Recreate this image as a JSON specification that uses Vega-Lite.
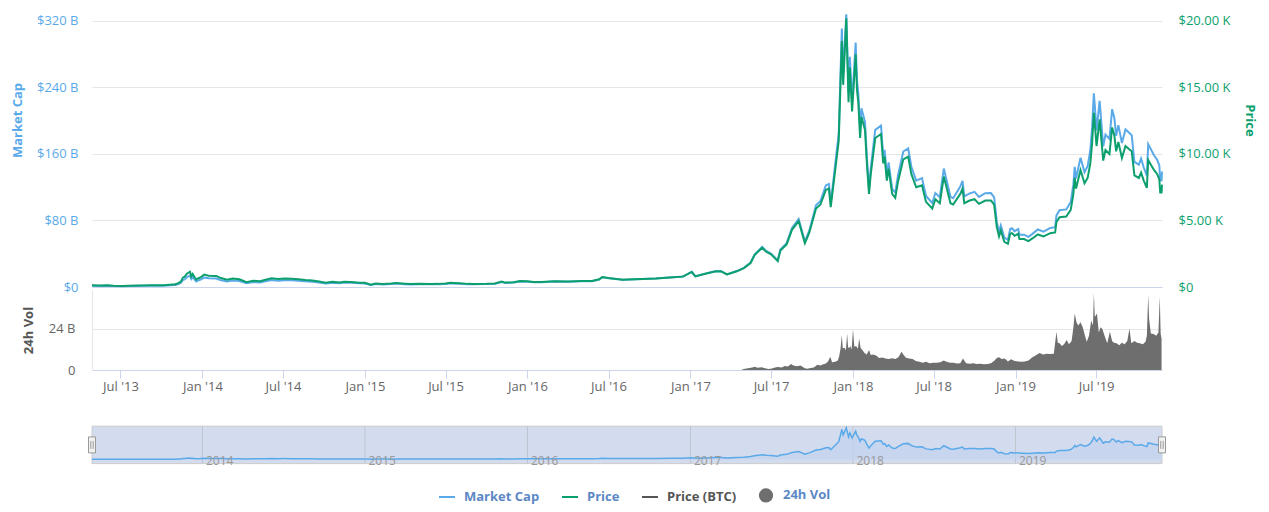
{
  "$schema": "https://vega.github.io/schema/vega-lite/v6.json",
  "padding": {"left": 11, "top": 10, "right": 10, "bottom": 5},
  "background": "white",
  "bounds": "flush",
  "spacing": 3,
  "config": {
    "font": "Open Sans",
    "view": {"stroke": null},
    "axis": {"labelFont": "Open Sans", "titleFont": "Open Sans"},
    "legend": {"labelFont": "Open Sans"}
  },
  "datasets": {
    "main": [
      {"d":"2013-04-28","mc":1.5,"p":135},{"d":"2013-05-15","mc":1.27,"p":114},{"d":"2013-06-01","mc":1.44,"p":129},{"d":"2013-06-15","mc":1.12,"p":100},
      {"d":"2013-07-05","mc":0.91,"p":80},{"d":"2013-07-20","mc":1.06,"p":93},{"d":"2013-08-05","mc":1.23,"p":107},{"d":"2013-08-20","mc":1.41,"p":122},
      {"d":"2013-09-05","mc":1.45,"p":125},{"d":"2013-09-20","mc":1.46,"p":125},{"d":"2013-10-05","mc":1.6,"p":136},{"d":"2013-10-20","mc":2.07,"p":175},
      {"d":"2013-11-01","mc":2.44,"p":205},{"d":"2013-11-08","mc":3.52,"p":295},{"d":"2013-11-14","mc":5.02,"p":420},{"d":"2013-11-18","mc":8.38,"p":700},
      {"d":"2013-11-22","mc":9.23,"p":770},{"d":"2013-11-27","mc":12.0,"p":1000},{"d":"2013-12-04","mc":13.8,"p":1150},{"d":"2013-12-07","mc":9.6,"p":800},
      {"d":"2013-12-10","mc":11.8,"p":980},{"d":"2013-12-18","mc":6.63,"p":550},{"d":"2013-12-22","mc":7.72,"p":640},{"d":"2013-12-28","mc":8.88,"p":730},
      {"d":"2014-01-05","mc":11.35,"p":930},{"d":"2014-01-15","mc":10.4,"p":850},{"d":"2014-02-01","mc":10.2,"p":830},{"d":"2014-02-10","mc":8.46,"p":690},
      {"d":"2014-02-25","mc":6.64,"p":540},{"d":"2014-03-10","mc":7.78,"p":630},{"d":"2014-03-25","mc":7.2,"p":580},{"d":"2014-04-10","mc":4.5,"p":360},
      {"d":"2014-04-25","mc":5.9,"p":470},{"d":"2014-05-10","mc":5.55,"p":440},{"d":"2014-05-25","mc":7.22,"p":570},{"d":"2014-06-05","mc":8.27,"p":650},
      {"d":"2014-06-20","mc":7.6,"p":595},{"d":"2014-07-05","mc":8.12,"p":630},{"d":"2014-07-20","mc":8.03,"p":620},{"d":"2014-08-05","mc":7.61,"p":585},
      {"d":"2014-08-20","mc":6.8,"p":520},{"d":"2014-09-05","mc":6.45,"p":490},{"d":"2014-09-20","mc":5.42,"p":410},{"d":"2014-10-05","mc":4.26,"p":320},
      {"d":"2014-10-20","mc":5.15,"p":385},{"d":"2014-11-05","mc":4.58,"p":340},{"d":"2014-11-15","mc":5.41,"p":400},{"d":"2014-12-01","mc":5.17,"p":380},
      {"d":"2014-12-20","mc":4.39,"p":320},{"d":"2015-01-01","mc":4.32,"p":315},{"d":"2015-01-14","mc":2.47,"p":180},{"d":"2015-01-25","mc":3.51,"p":255},
      {"d":"2015-02-10","mc":3.04,"p":220},{"d":"2015-03-01","mc":3.61,"p":260},{"d":"2015-03-12","mc":4.11,"p":295},{"d":"2015-04-01","mc":3.43,"p":245},
      {"d":"2015-04-15","mc":3.09,"p":220},{"d":"2015-05-01","mc":3.32,"p":235},{"d":"2015-06-01","mc":3.2,"p":225},{"d":"2015-06-15","mc":3.36,"p":235},
      {"d":"2015-07-01","mc":3.74,"p":260},{"d":"2015-07-12","mc":4.47,"p":310},{"d":"2015-08-01","mc":4.05,"p":280},{"d":"2015-08-20","mc":3.41,"p":235},
      {"d":"2015-09-01","mc":3.35,"p":230},{"d":"2015-10-01","mc":3.49,"p":238},{"d":"2015-10-20","mc":3.97,"p":270},{"d":"2015-11-04","mc":6.05,"p":410},
      {"d":"2015-11-12","mc":4.88,"p":330},{"d":"2015-12-01","mc":5.35,"p":360},{"d":"2015-12-15","mc":6.71,"p":450},{"d":"2016-01-01","mc":6.45,"p":430},
      {"d":"2016-01-15","mc":5.71,"p":380},{"d":"2016-02-01","mc":5.65,"p":375},{"d":"2016-03-01","mc":6.58,"p":435},{"d":"2016-04-01","mc":6.3,"p":415},
      {"d":"2016-05-01","mc":6.87,"p":450},{"d":"2016-05-25","mc":6.9,"p":450},{"d":"2016-06-10","mc":8.94,"p":580},{"d":"2016-06-17","mc":11.6,"p":750},
      {"d":"2016-07-01","mc":10.6,"p":675},{"d":"2016-08-02","mc":8.7,"p":550},{"d":"2016-08-15","mc":9.03,"p":570},{"d":"2016-09-15","mc":9.7,"p":610},
      {"d":"2016-10-15","mc":10.2,"p":640},{"d":"2016-11-15","mc":11.35,"p":710},{"d":"2016-12-15","mc":12.5,"p":780},{"d":"2017-01-04","mc":18.2,"p":1130},
      {"d":"2017-01-12","mc":12.9,"p":800},{"d":"2017-02-01","mc":15.8,"p":980},{"d":"2017-02-25","mc":18.9,"p":1170},{"d":"2017-03-10","mc":19.2,"p":1190},
      {"d":"2017-03-24","mc":15.2,"p":940},{"d":"2017-04-15","mc":19.2,"p":1180},{"d":"2017-05-01","mc":23.1,"p":1420},{"d":"2017-05-16","mc":29.3,"p":1800},
      {"d":"2017-05-25","mc":39.1,"p":2400},{"d":"2017-06-11","mc":48.3,"p":2950},{"d":"2017-06-20","mc":43.4,"p":2650},{"d":"2017-07-01","mc":40.2,"p":2450},
      {"d":"2017-07-16","mc":32.0,"p":1950},{"d":"2017-07-22","mc":45.2,"p":2750},{"d":"2017-08-05","mc":52.7,"p":3200},{"d":"2017-08-17","mc":71.0,"p":4300},
      {"d":"2017-09-01","mc":81.9,"p":4950},{"d":"2017-09-15","mc":54.7,"p":3300},{"d":"2017-09-25","mc":68.1,"p":4100},{"d":"2017-10-10","mc":98.2,"p":5900},
      {"d":"2017-10-20","mc":103.5,"p":6200},{"d":"2017-11-01","mc":122.2,"p":7300},{"d":"2017-11-08","mc":124,"p":7400},{"d":"2017-11-12","mc":100.6,"p":6000},
      {"d":"2017-11-20","mc":137.6,"p":8200},{"d":"2017-11-30","mc":184.8,"p":11000},{"d":"2017-12-07","mc":311,"p":18500},{"d":"2017-12-10","mc":255.5,"p":15200},
      {"d":"2017-12-17","mc":328,"p":20200},{"d":"2017-12-22","mc":233.5,"p":13900},{"d":"2017-12-25","mc":277,"p":16500},{"d":"2017-12-30","mc":222,"p":13200},
      {"d":"2018-01-07","mc":294,"p":17500},{"d":"2018-01-10","mc":249,"p":14800},{"d":"2018-01-13","mc":233,"p":13900},{"d":"2018-01-17","mc":188,"p":11200},
      {"d":"2018-01-20","mc":215,"p":12800},{"d":"2018-01-28","mc":198.5,"p":11800},{"d":"2018-02-01","mc":158,"p":9400},{"d":"2018-02-06","mc":118,"p":7000},
      {"d":"2018-02-10","mc":143,"p":8500},{"d":"2018-02-20","mc":189,"p":11200},{"d":"2018-03-05","mc":194,"p":11500},{"d":"2018-03-10","mc":157,"p":9300},
      {"d":"2018-03-13","mc":165,"p":9800},{"d":"2018-03-18","mc":135,"p":8000},{"d":"2018-03-22","mc":150,"p":8900},{"d":"2018-03-30","mc":118,"p":7000},
      {"d":"2018-04-06","mc":113.5,"p":6700},{"d":"2018-04-12","mc":134,"p":7900},{"d":"2018-04-24","mc":163,"p":9600},{"d":"2018-05-05","mc":166.8,"p":9800},
      {"d":"2018-05-12","mc":145,"p":8500},{"d":"2018-05-23","mc":128,"p":7500},{"d":"2018-06-05","mc":131,"p":7650},{"d":"2018-06-14","mc":109.5,"p":6400},
      {"d":"2018-06-28","mc":101,"p":5900},{"d":"2018-07-05","mc":113,"p":6600},{"d":"2018-07-15","mc":108,"p":6300},{"d":"2018-07-24","mc":142.5,"p":8300},
      {"d":"2018-08-08","mc":108.5,"p":6300},{"d":"2018-08-14","mc":106.8,"p":6200},{"d":"2018-08-30","mc":120.8,"p":7000},{"d":"2018-09-04","mc":127.8,"p":7400},
      {"d":"2018-09-08","mc":108.9,"p":6300},{"d":"2018-09-20","mc":112.5,"p":6500},{"d":"2018-10-01","mc":114.4,"p":6600},{"d":"2018-10-11","mc":108.4,"p":6250},
      {"d":"2018-10-25","mc":112.9,"p":6500},{"d":"2018-11-07","mc":113,"p":6500},{"d":"2018-11-14","mc":107.9,"p":6200},{"d":"2018-11-20","mc":78.3,"p":4500},
      {"d":"2018-11-25","mc":66.2,"p":3800},{"d":"2018-11-29","mc":74,"p":4250},{"d":"2018-12-07","mc":59.3,"p":3400},{"d":"2018-12-15","mc":56.7,"p":3250},
      {"d":"2018-12-20","mc":69.8,"p":4000},{"d":"2018-12-24","mc":70.7,"p":4050},{"d":"2018-12-30","mc":67.2,"p":3850},{"d":"2019-01-07","mc":69.8,"p":4000},
      {"d":"2019-01-10","mc":62.9,"p":3600},{"d":"2019-01-20","mc":62.9,"p":3600},{"d":"2019-01-30","mc":60.3,"p":3450},{"d":"2019-02-08","mc":63.9,"p":3650},
      {"d":"2019-02-20","mc":69.2,"p":3950},{"d":"2019-03-05","mc":66.6,"p":3800},{"d":"2019-03-20","mc":71.1,"p":4050},{"d":"2019-03-31","mc":72.0,"p":4100},
      {"d":"2019-04-03","mc":86.1,"p":4900},{"d":"2019-04-10","mc":92.3,"p":5250},{"d":"2019-04-25","mc":93.3,"p":5300},{"d":"2019-05-05","mc":102.2,"p":5800},
      {"d":"2019-05-11","mc":123.4,"p":7000},{"d":"2019-05-14","mc":144.6,"p":8200},{"d":"2019-05-17","mc":130.5,"p":7400},{"d":"2019-05-27","mc":155.5,"p":8800},
      {"d":"2019-06-05","mc":138.0,"p":7800},{"d":"2019-06-12","mc":145.2,"p":8200},{"d":"2019-06-18","mc":164.8,"p":9300},{"d":"2019-06-22","mc":191.4,"p":10800},
      {"d":"2019-06-26","mc":233,"p":13100},{"d":"2019-06-29","mc":211.4,"p":11900},{"d":"2019-07-02","mc":188.4,"p":10600},{"d":"2019-07-09","mc":224,"p":12600},
      {"d":"2019-07-12","mc":202.8,"p":11400},{"d":"2019-07-17","mc":169.1,"p":9500},{"d":"2019-07-22","mc":183.4,"p":10300},{"d":"2019-07-31","mc":178.2,"p":10000},
      {"d":"2019-08-06","mc":213.9,"p":12000},{"d":"2019-08-11","mc":203.3,"p":11400},{"d":"2019-08-15","mc":182,"p":10200},{"d":"2019-08-20","mc":194.6,"p":10900},
      {"d":"2019-08-28","mc":173.3,"p":9700},{"d":"2019-09-05","mc":189.5,"p":10600},{"d":"2019-09-12","mc":186.1,"p":10400},{"d":"2019-09-19","mc":182.6,"p":10200},
      {"d":"2019-09-25","mc":150.5,"p":8400},{"d":"2019-10-05","mc":147.1,"p":8200},{"d":"2019-10-10","mc":154.4,"p":8600},{"d":"2019-10-16","mc":143.7,"p":8000},
      {"d":"2019-10-23","mc":133.9,"p":7450},{"d":"2019-10-26","mc":171.7,"p":9550},{"d":"2019-11-01","mc":165.6,"p":9200},{"d":"2019-11-08","mc":158.5,"p":8800},
      {"d":"2019-11-15","mc":153.2,"p":8500},{"d":"2019-11-20","mc":146.1,"p":8100},{"d":"2019-11-22","mc":128.1,"p":7100},{"d":"2019-11-25","mc":128.2,"p":7100},
      {"d":"2019-11-26","mc":139,"p":7700}
    ],
    "vol": [
      {"d":"2017-04-25","v":0},{"d":"2017-05-01","v":0.6},{"d":"2017-05-10","v":1.0},{"d":"2017-05-20","v":1.5},{"d":"2017-05-25","v":1.9},
      {"d":"2017-06-01","v":1.3},{"d":"2017-06-10","v":1.6},{"d":"2017-06-15","v":1.2},{"d":"2017-06-25","v":0.6},{"d":"2017-07-01","v":0.8},
      {"d":"2017-07-10","v":1.4},{"d":"2017-07-16","v":1.8},{"d":"2017-07-25","v":1.5},{"d":"2017-08-01","v":2.3},{"d":"2017-08-08","v":2.0},
      {"d":"2017-08-15","v":3.5},{"d":"2017-08-20","v":2.6},{"d":"2017-08-28","v":2.2},{"d":"2017-09-05","v":2.6},{"d":"2017-09-15","v":1.0},
      {"d":"2017-09-20","v":0.7},{"d":"2017-09-28","v":1.2},{"d":"2017-10-05","v":1.5},{"d":"2017-10-13","v":3.0},{"d":"2017-10-20","v":2.6},
      {"d":"2017-10-25","v":3.2},{"d":"2017-11-01","v":3.8},{"d":"2017-11-06","v":5.0},{"d":"2017-11-11","v":7.8},{"d":"2017-11-15","v":4.5},
      {"d":"2017-11-22","v":4.8},{"d":"2017-11-28","v":5.5},{"d":"2017-12-01","v":8.0},{"d":"2017-12-04","v":12.5},{"d":"2017-12-07","v":20.5},
      {"d":"2017-12-09","v":12.7},{"d":"2017-12-13","v":13.0},{"d":"2017-12-16","v":11.5},{"d":"2017-12-19","v":21.4},{"d":"2017-12-21","v":13.5},
      {"d":"2017-12-23","v":12.7},{"d":"2017-12-26","v":14.0},{"d":"2017-12-29","v":12.0},{"d":"2018-01-01","v":23.8},{"d":"2018-01-04","v":13.6},
      {"d":"2018-01-08","v":14.0},{"d":"2018-01-12","v":12.5},{"d":"2018-01-15","v":18.5},{"d":"2018-01-18","v":13.0},{"d":"2018-01-22","v":11.7},
      {"d":"2018-01-27","v":10.0},{"d":"2018-02-01","v":9.0},{"d":"2018-02-06","v":11.7},{"d":"2018-02-10","v":8.8},{"d":"2018-02-15","v":9.0},
      {"d":"2018-02-22","v":8.5},{"d":"2018-03-01","v":7.0},{"d":"2018-03-08","v":7.3},{"d":"2018-03-15","v":6.8},{"d":"2018-03-22","v":6.5},
      {"d":"2018-03-30","v":6.9},{"d":"2018-04-06","v":6.5},{"d":"2018-04-13","v":7.5},{"d":"2018-04-20","v":10.7},{"d":"2018-04-24","v":9.0},
      {"d":"2018-04-30","v":7.2},{"d":"2018-05-07","v":6.8},{"d":"2018-05-15","v":6.5},{"d":"2018-05-22","v":5.2},{"d":"2018-05-30","v":4.8},
      {"d":"2018-06-07","v":4.3},{"d":"2018-06-14","v":4.8},{"d":"2018-06-22","v":4.0},{"d":"2018-06-30","v":4.2},{"d":"2018-07-08","v":4.3},
      {"d":"2018-07-16","v":4.5},{"d":"2018-07-24","v":5.5},{"d":"2018-07-30","v":4.8},{"d":"2018-08-07","v":4.2},{"d":"2018-08-15","v":4.3},
      {"d":"2018-08-22","v":3.8},{"d":"2018-08-30","v":3.9},{"d":"2018-09-05","v":6.8},{"d":"2018-09-12","v":3.9},{"d":"2018-09-20","v":3.7},
      {"d":"2018-09-28","v":3.9},{"d":"2018-10-06","v":3.5},{"d":"2018-10-14","v":3.7},{"d":"2018-10-22","v":3.4},{"d":"2018-10-30","v":3.5},
      {"d":"2018-11-07","v":4.0},{"d":"2018-11-15","v":5.5},{"d":"2018-11-20","v":7.0},{"d":"2018-11-25","v":7.5},{"d":"2018-12-01","v":6.5},
      {"d":"2018-12-08","v":6.8},{"d":"2018-12-15","v":5.0},{"d":"2018-12-22","v":6.3},{"d":"2018-12-30","v":5.2},{"d":"2019-01-08","v":5.0},
      {"d":"2019-01-15","v":4.8},{"d":"2019-01-22","v":5.0},{"d":"2019-01-30","v":5.5},{"d":"2019-02-08","v":7.5},{"d":"2019-02-15","v":8.5},
      {"d":"2019-02-24","v":10.0},{"d":"2019-03-04","v":9.0},{"d":"2019-03-12","v":9.5},{"d":"2019-03-20","v":9.3},{"d":"2019-03-28","v":9.5},
      {"d":"2019-04-03","v":22.4},{"d":"2019-04-06","v":16.0},{"d":"2019-04-10","v":15.6},{"d":"2019-04-15","v":14.0},{"d":"2019-04-20","v":15.0},
      {"d":"2019-04-26","v":17.5},{"d":"2019-05-01","v":15.0},{"d":"2019-05-07","v":17.0},{"d":"2019-05-11","v":25.0},{"d":"2019-05-14","v":33.0},
      {"d":"2019-05-18","v":28.0},{"d":"2019-05-22","v":26.0},{"d":"2019-05-27","v":28.0},{"d":"2019-06-01","v":25.0},{"d":"2019-06-06","v":20.0},
      {"d":"2019-06-10","v":16.5},{"d":"2019-06-15","v":20.0},{"d":"2019-06-20","v":29.0},{"d":"2019-06-24","v":26.0},{"d":"2019-06-26","v":45.0},
      {"d":"2019-06-28","v":31.0},{"d":"2019-07-03","v":33.0},{"d":"2019-07-07","v":22.0},{"d":"2019-07-11","v":25.0},{"d":"2019-07-15","v":24.0},
      {"d":"2019-07-20","v":20.0},{"d":"2019-07-26","v":15.6},{"d":"2019-08-01","v":22.4},{"d":"2019-08-06","v":17.0},{"d":"2019-08-10","v":16.0},
      {"d":"2019-08-16","v":15.6},{"d":"2019-08-22","v":14.5},{"d":"2019-08-28","v":16.0},{"d":"2019-09-03","v":15.0},{"d":"2019-09-09","v":17.0},
      {"d":"2019-09-14","v":24.3},{"d":"2019-09-18","v":15.6},{"d":"2019-09-25","v":17.0},{"d":"2019-10-01","v":16.0},{"d":"2019-10-07","v":15.6},
      {"d":"2019-10-14","v":15.0},{"d":"2019-10-20","v":16.5},{"d":"2019-10-23","v":20.0},{"d":"2019-10-26","v":44.0},{"d":"2019-10-28","v":30.0},
      {"d":"2019-11-01","v":21.4},{"d":"2019-11-07","v":21.0},{"d":"2019-11-13","v":20.0},{"d":"2019-11-18","v":22.0},{"d":"2019-11-21","v":43.0},
      {"d":"2019-11-23","v":21.0},{"d":"2019-11-25","v":18.5}
    ],
    "handles": [{"d":"2013-04-28"},{"d":"2019-11-26"}],
    "navbox": [{"d0":"2013-04-28","d1":"2019-11-26"}],
    "years": [{"d":"2014-01-01"},{"d":"2015-01-01"},{"d":"2016-01-01"},{"d":"2017-01-01"},{"d":"2018-01-01"},{"d":"2019-01-01"}]
  },
  "vconcat": [
    {
      "width": 1070,
      "height": 277,
      "data": {"name": "main"},
      "layer": [
        {
          "mark": {"type": "line", "strokeWidth": 2},
          "encoding": {
            "x": {"field": "d", "type": "temporal",
              "scale": {"domain": [{"year": 2013, "month": 4, "date": 28}, {"year": 2019, "month": 11, "date": 26}]},
              "axis": {"title": null, "labels": false, "ticks": false, "grid": false, "domainColor": "#ccd6eb"}},
            "y": {"field": "mc", "type": "quantitative", "scale": {"domain": [0, 333.2]},
              "axis": {"values": [0, 80, 160, 240, 320],
                "labelExpr": "datum.value == 0 ? '$0' : '$' + datum.value + ' B'",
                "labelColor": "#5aaae9", "labelFontSize": 13, "title": "Market Cap", "titleColor": "#5aaae9",
                "titleFontSize": 13, "titleFontWeight": "bold", "ticks": false, "domain": false,
                "gridColor": "#e6e6e6", "labelPadding": 14, "titlePadding": 12, "titleY": 110}},
            "color": {"datum": "Market Cap", "type": "nominal",
              "scale": {"domain": ["Market Cap", "Price", "Price (BTC)", "24h Vol"], "range": ["#5aaae9", "#0c9f6e", "#555555", "#6e6e6e"]},
              "legend": {"orient": "none", "direction": "horizontal", "legendX": 346, "legendY": 476, "title": null,
                "labelFontSize": 13, "labelFontWeight": "bold", "labelColor": "#5b88c4", "symbolType": "stroke",
                "symbolStrokeWidth": 2, "symbolSize": 256, "columnPadding": 18, "labelOffset": 8,
                "encode": {
                  "symbols": {"update": {
                    "shape": {"signal": "datum.value === '24h Vol' ? 'circle' : 'stroke'"},
                    "size": {"signal": "datum.value === '24h Vol' ? 150 : 256"},
                    "fill": {"signal": "datum.value === '24h Vol' ? '#6e6e6e' : 'transparent'"},
                    "stroke": {"signal": "datum.value === 'Market Cap' ? '#5aaae9' : datum.value === 'Price' ? '#0c9f6e' : datum.value === 'Price (BTC)' ? '#555555' : 'transparent'"},
                    "strokeWidth": {"value": 2}}},
                  "labels": {"update": {"fill": {"signal": "datum.value === 'Price (BTC)' ? '#555555' : '#5b88c4'"}}}
                }}}
          }
        },
        {
          "mark": {"type": "line", "strokeWidth": 2},
          "encoding": {
            "x": {"field": "d", "type": "temporal"},
            "y": {"field": "p", "type": "quantitative", "scale": {"domain": [0, 20827]},
              "axis": {"orient": "right", "values": [0, 5000, 10000, 15000, 20000],
                "labelExpr": "datum.value == 0 ? '$0' : '$' + format(datum.value / 1000, '.2f') + ' K'",
                "labelColor": "#0c9f6e", "labelFontSize": 13, "title": "Price", "titleColor": "#0c9f6e",
                "titleFontSize": 13, "titleFontWeight": "bold", "ticks": false, "domain": false, "grid": false,
                "labelPadding": 16, "titlePadding": 13, "titleY": 110}},
            "color": {"datum": "Price", "type": "nominal"}
          }
        }
      ],
      "resolve": {"scale": {"y": "independent"}}
    },
    {
      "width": 1070,
      "height": 80,
      "data": {"name": "vol"},
      "mark": {"type": "area", "color": "#6e6e6e", "opacity": 1},
      "encoding": {
        "x": {"field": "d", "type": "temporal",
          "scale": {"domain": [{"year": 2013, "month": 4, "date": 28}, {"year": 2019, "month": 11, "date": 26}]},
          "axis": {"title": null, "format": "%b '%y",
            "values": [{"year": 2013, "month": 7, "date": 1}, {"year": 2014, "month": 1, "date": 1}, {"year": 2014, "month": 7, "date": 1},
              {"year": 2015, "month": 1, "date": 1}, {"year": 2015, "month": 7, "date": 1}, {"year": 2016, "month": 1, "date": 1},
              {"year": 2016, "month": 7, "date": 1}, {"year": 2017, "month": 1, "date": 1}, {"year": 2017, "month": 7, "date": 1},
              {"year": 2018, "month": 1, "date": 1}, {"year": 2018, "month": 7, "date": 1}, {"year": 2019, "month": 1, "date": 1},
              {"year": 2019, "month": 7, "date": 1}],
            "labelColor": "#666666", "labelFontSize": 13, "tickColor": "#ccd6eb", "tickSize": 8,
            "domainColor": "#ccd6eb", "grid": false, "labelPadding": 2}},
        "y": {"field": "v", "type": "quantitative", "scale": {"domain": [0, 46.8]},
          "axis": {"values": [0, 24], "labelExpr": "datum.value == 0 ? '0' : datum.value + ' B'",
            "title": "24h Vol", "titleColor": "#555555", "titleFontWeight": "bold", "titleFontSize": 13,
            "labelColor": "#666666", "labelFontSize": 13, "gridColor": "#e6e6e6", "domain": true, "domainColor": "#e6e6e6",
            "ticks": false, "labelPadding": 17, "titlePadding": 13}}
      }
    },
    {
      "width": 1070,
      "height": 96,
      "layer": [
        {
          "data": {"name": "navbox"},
          "mark": {"type": "rect", "fill": "#d3dbee", "stroke": "#cccccc", "strokeWidth": 1},
          "encoding": {
            "x": {"field": "d0", "type": "temporal",
              "scale": {"domain": [{"year": 2013, "month": 4, "date": 28}, {"year": 2019, "month": 11, "date": 26}]},
              "axis": {"title": null, "format": "%Y", "zindex": 1,
                "values": [{"year": 2014, "month": 1, "date": 1}, {"year": 2015, "month": 1, "date": 1}, {"year": 2016, "month": 1, "date": 1},
                  {"year": 2017, "month": 1, "date": 1}, {"year": 2018, "month": 1, "date": 1}, {"year": 2019, "month": 1, "date": 1}],
                "grid": false, "ticks": false, "tickSize": 0, "domain": false,
                "labelAlign": "left", "labelBaseline": "alphabetic", "labelPadding": -5, "labelOffset": 3,
                "labelColor": "#999999", "labelFontSize": 12}},
            "x2": {"field": "d1"},
            "y": {"datum": -44, "type": "quantitative", "scale": {"domain": [-44, 806.9]}, "axis": null},
            "y2": {"datum": 346}
          }
        },
        {
          "data": {"name": "years"},
          "mark": {"type": "rule", "color": "#bfc4cf", "strokeWidth": 1},
          "encoding": {
            "x": {"field": "d", "type": "temporal"},
            "y": {"datum": -44, "type": "quantitative"},
            "y2": {"datum": 346}
          }
        },
        {
          "data": {"name": "main"},
          "mark": {"type": "area", "color": "#c2d3ef", "line": {"color": "#5aaae9", "strokeWidth": 1.5}},
          "encoding": {
            "x": {"field": "d", "type": "temporal"},
            "y": {"field": "mc", "type": "quantitative"}
          }
        },
        {
          "data": {"name": "handles"},
          "mark": {"type": "point", "shape": "M-0.35,-0.8H0.35V0.8H-0.35Z", "size": 400, "filled": true, "fill": "#f2f2f2", "stroke": "#999999", "strokeWidth": 1, "opacity": 1},
          "encoding": {
            "x": {"field": "d", "type": "temporal"},
            "y": {"datum": 151, "type": "quantitative"}
          }
        },
        {
          "data": {"name": "handles"},
          "mark": {"type": "point", "shape": "M-0.12,-0.4V0.4M0.12,-0.4V0.4", "size": 400, "filled": false, "stroke": "#999999", "strokeWidth": 1, "opacity": 1},
          "encoding": {
            "x": {"field": "d", "type": "temporal"},
            "y": {"datum": 151, "type": "quantitative"}
          }
        }
      ]
    }
  ]
}
